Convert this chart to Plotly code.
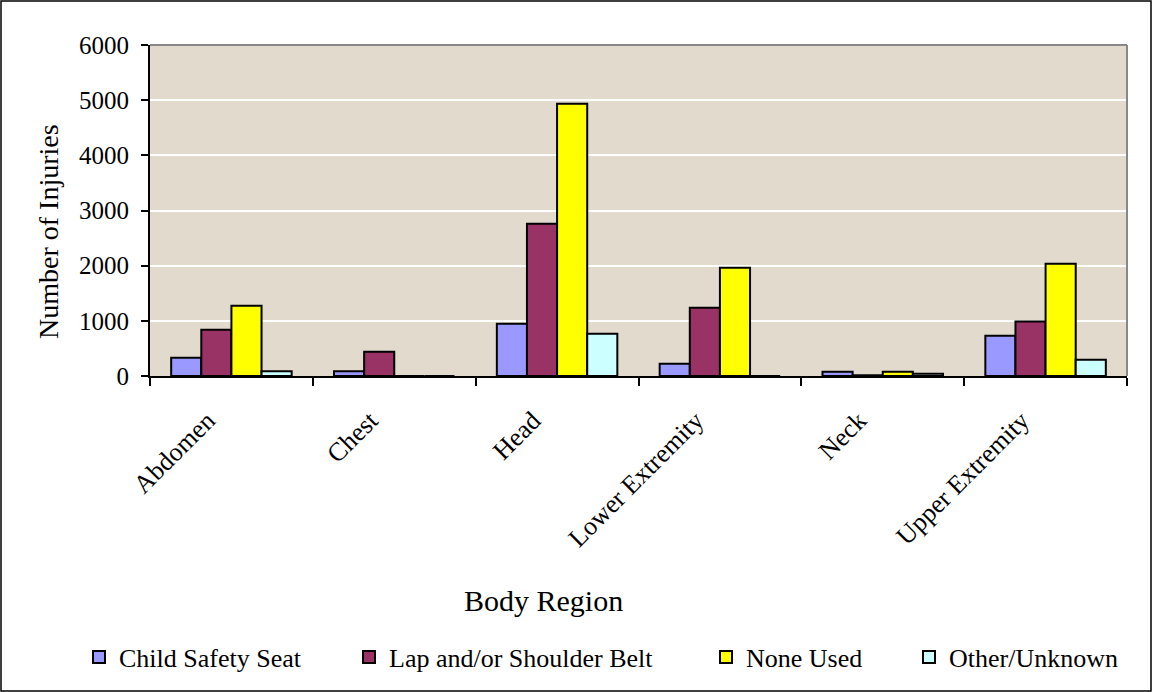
import plotly.graph_objects as go

categories = ["Abdomen", "Chest", "Head", "Lower Extremity", "Neck", "Upper Extremity"]
child_seat = [330, 85, 948, 223, 78, 730]
lap_belt = [840, 440, 2760, 1238, 15, 990]
none_used = [1275, 0, 4935, 1962, 78, 2034]
other_unknown = [85, 0, 767, 0, 42, 295]

series = [
    ("Child Safety Seat", child_seat, "#9999FF"),
    ("Lap and/or Shoulder Belt", lap_belt, "#993366"),
    ("None Used", none_used, "#FFFF00"),
    ("Other/Unknown", other_unknown, "#CCFFFF"),
]

FONT = "Liberation Serif, Times New Roman, serif"

W, H = 1152, 692
L, R, T, B = 150, 25, 45, 316
pw, ph = W - L - R, H - T - B


def px_x(p):
    return (p - L) / pw


def px_y(p):
    return (H - B - p) / ph


legend_text_starts = [119, 389, 746, 949]
legend_names = ["legend", "legend2", "legend3", "legend4"]

fig = go.Figure()
for (name, vals, col), lg in zip(series, legend_names):
    fig.add_trace(go.Bar(
        x=categories, y=vals, name=name, legend=lg,
        marker=dict(color=col, line=dict(color="black", width=2)),
    ))

layout_legends = {}
for lg, xs in zip(legend_names, legend_text_starts):
    layout_legends[lg] = dict(
        x=px_x(xs - 40), xanchor="left",
        y=px_y(657), yanchor="middle",
        font=dict(family=FONT, size=26),
        bgcolor="rgba(0,0,0,0)",
        itemwidth=30,
    )

fig.update_layout(
    width=W, height=H,
    margin=dict(l=L, r=R, t=T, b=B),
    paper_bgcolor="white",
    plot_bgcolor="#E3DACE",
    barmode="group",
    bargap=0.26,
    bargroupgap=0,
    font=dict(family=FONT, color="black", size=24),
    showlegend=True,
    **layout_legends,
    xaxis=dict(
        tickangle=-45,
        tickson="boundaries",
        ticks="outside", ticklen=8, tickcolor="black", tickwidth=2,
        showline=True, linecolor="black", linewidth=2,
        tickfont=dict(family=FONT, size=26),
        ticklabelstandoff=17,
        ticklabelshift=-24,
        showgrid=False,
    ),
    yaxis=dict(
        range=[0, 6000],
        dtick=1000,
        ticks="outside", ticklen=7, tickcolor="black", tickwidth=2,
        showline=True, linecolor="black", linewidth=2,
        gridcolor="white", gridwidth=2,
        zeroline=False,
        tickfont=dict(family=FONT, size=25),
        ticklabelstandoff=7,
    ),
    annotations=[
        dict(text="Body Region", x=px_x(543), y=px_y(600), xref="paper", yref="paper",
             showarrow=False, font=dict(family=FONT, size=30), xanchor="center", yanchor="middle"),
        dict(text="Number of Injuries", x=px_x(48), y=px_y(232), xref="paper", yref="paper",
             showarrow=False, textangle=-90, font=dict(family=FONT, size=28),
             xanchor="center", yanchor="middle"),
    ],
    shapes=[
        dict(type="rect", xref="paper", yref="paper",
             x0=px_x(1), x1=px_x(1151), y0=px_y(691), y1=px_y(1),
             line=dict(color="black", width=1.5), fillcolor="rgba(0,0,0,0)", layer="below"),
        dict(type="line", xref="paper", yref="paper",
             x0=1, x1=1, y0=0, y1=1, line=dict(color="#888888", width=2)),
        dict(type="line", xref="paper", yref="paper",
             x0=0, x1=1, y0=1, y1=1, line=dict(color="#888888", width=2)),
    ],
)

fig.write_html("out.html", post_script="document.body.style.margin='0';",
               config={"displayModeBar": False})
